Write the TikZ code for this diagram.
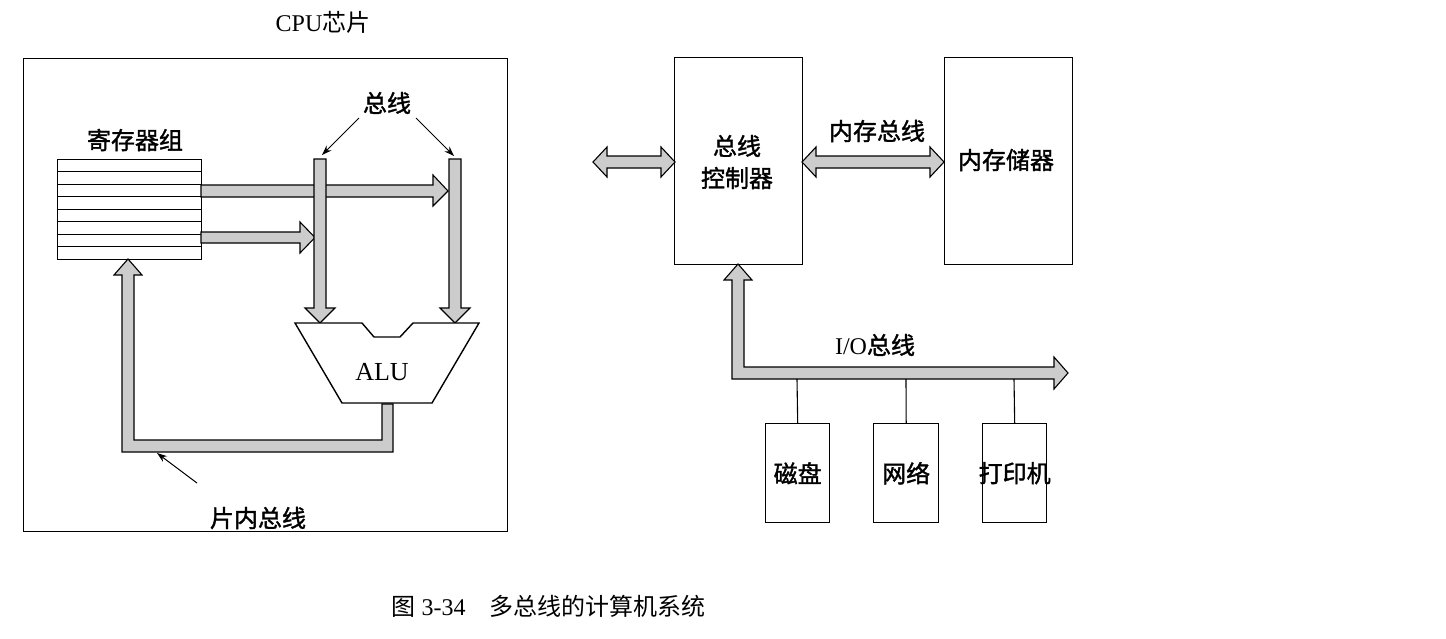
\documentclass[tikz,border=0pt]{standalone}
\usetikzlibrary{arrows.meta}
\usepackage{fontspec}
\setmainfont{Liberation Serif}
\newfontfamily\cjk[FakeBold=1.5]{Noto Sans CJK SC}
\newfontfamily\cjkr{Noto Sans CJK SC}
\begin{document}
\begin{tikzpicture}[x=1pt,y=-1pt,
  box/.style={draw,line width=1.4pt,inner sep=0pt,anchor=north west},
  bus/.style={draw,line width=1.1pt,fill=gray!40,line join=miter},
  lbl/.style={font=\fontsize{24}{28}\selectfont},
  ptr/.style={draw,line width=1pt,-{Stealth[length=10pt,width=7pt]}}]
\useasboundingbox (0,0) rectangle (1446,638);
% CPU chip
\node[box,minimum width=484pt,minimum height=473pt] (cpu) at (23,58) {};
\node[lbl] (cpul) at (323,22) {CPU{\cjkr 芯片}};
% register file
\node[box,minimum width=144pt,minimum height=100pt] (reg) at (57,159) {};
\foreach \i in {1,...,7}{\draw[line width=1pt] (57,159+12.5*\i) -- (201,159+12.5*\i);}
\node[lbl] (regl) at (135,140) {\cjk 寄存器组};
% buses inside CPU
\draw[bus] (201,185)--(433,185)--(433,175)--(448,191)--(433,206)--(433,197)--(201,197)--cycle;
\draw[bus] (201,232)--(300,232)--(300,222)--(315,237.5)--(300,253)--(300,243)--(201,243)--cycle;
\draw[bus] (314,159)--(326,159)--(326,308)--(335,308)--(320,323)--(305,308)--(314,308)--cycle;
\draw[bus] (449,159)--(461,159)--(461,308)--(470,308)--(455,323)--(440,308)--(449,308)--cycle;
% ALU
\draw[line width=1.4pt,fill=white] (295,323)--(362,323)--(374,337)--(400,337)--(413,323)--(479,323)--(432,403)--(342,403)--cycle;
\node[lbl,font=\fontsize{26}{30}\selectfont] (alu) at (382,372) {ALU};
\coordinate (alub) at (387,403);
\draw[bus] (382,404)--(393,404)--(393,452)--(122,452)--(122,275)--(114,275)--(128,259)--(142,275)--(134,275)--(134,440)--(382,440)--cycle;
% labels with pointers
\node[lbl] (busl) at (387,103) {\cjk 总线};
\coordinate (b1) at (322,155);
\coordinate (b2) at (454,156);
\draw[ptr] (359,118) -- (b1);
\draw[ptr] (416,118) -- (b2);
\node[lbl] (inl) at (258,518) {\cjk 片内总线};
\coordinate (inp) at (157,453);
\draw[ptr] (197,483) -- (inp);
% bus controller and memory
\node[box,minimum width=128pt,minimum height=207pt] (bc) at (674,57) {};
\node[lbl,align=center] (bcl) at (737,162) {\cjk 总线\\[4pt]\cjk 控制器};
\node[box,minimum width=128pt,minimum height=207pt] (mem) at (944,57) {};
\node[lbl] (meml) at (1006,160) {\cjk 内存储器};
\draw[bus] (593,162)--(607,147)--(607,156)--(661,156)--(661,147)--(675,162)--(661,177)--(661,168)--(607,168)--(607,177)--cycle;
\draw[bus] (802,162)--(816,147)--(816,156)--(930,156)--(930,147)--(944,162)--(930,177)--(930,168)--(816,168)--(816,177)--cycle;
\node[lbl] (mbl) at (877,131) {\cjk 内存总线};
% I/O bus
\draw[bus] (738,264)--(752,280)--(744,280)--(744,367)--(1054,367)--(1054,357)--(1068,373)--(1054,389)--(1054,379)--(732,379)--(732,280)--(724,280)--cycle;
\node[lbl] (iol) at (875,345) {I/O{\cjk 总线}};
\node[box,minimum width=64pt,minimum height=99pt] (disk) at (765,423) {};
\node[lbl] at (disk.center) {\cjk 磁盘};
\node[box,minimum width=65pt,minimum height=99pt] (net) at (873,423) {};
\node[lbl] at (net.center) {\cjk 网络};
\node[box,minimum width=64pt,minimum height=99pt] (prn) at (982,423) {};
\node[lbl] at (prn.center) {\cjk 打印机};
\coordinate (t1) at (797,379);
\coordinate (t2) at (906,379);
\coordinate (t3) at (1014,379);
\draw[line width=1.1pt] (t1) -- (disk.north);
\draw[line width=1.1pt] (t2) -- (net.north);
\draw[line width=1.1pt] (t3) -- (prn.north);
% caption
\node[font=\fontsize{24}{28}\selectfont,anchor=west] (cap) at (388,606) {{\cjkr 图} 3-34\quad{\cjkr 多总线的计算机系统}};
\end{tikzpicture}
\end{document}
